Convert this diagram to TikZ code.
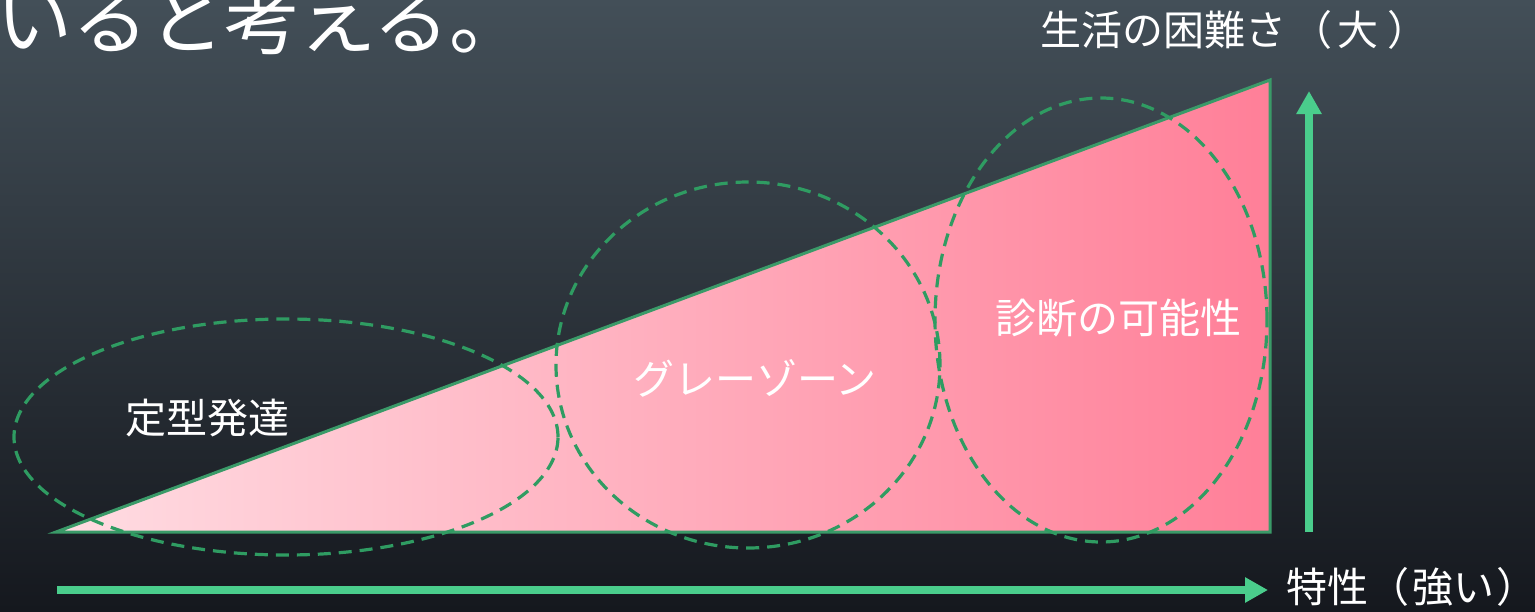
\documentclass[tikz,border=0pt]{standalone}
\usepackage{fontspec}
\setmainfont{Noto Sans CJK JP}
\usetikzlibrary{shapes.geometric, arrows.meta}
\definecolor{bgtop}{HTML}{434F58}
\definecolor{bgbot}{HTML}{15181E}
\definecolor{pinkleft}{HTML}{FFDDE3}
\definecolor{pinkright}{HTML}{FF7F98}
\definecolor{edgegreen}{HTML}{3A9A68}
\definecolor{dashgreen}{HTML}{2F9C62}
\definecolor{axisgreen}{HTML}{4ACD8C}
\def\lbl{\fontsize{41}{49}\selectfont}
\def\ttl{\fontsize{76}{90}\selectfont}
\tikzstyle{zone}=[ellipse, draw=dashgreen, line width=3.2pt, dash pattern=on 13pt off 8pt, inner sep=0pt]
\tikzstyle{zonetext}=[text=white, font=\lbl, inner sep=0pt]
\tikzstyle{axis}=[draw=axisgreen, line width=8pt, -{Triangle[length=23pt,width=24pt]}]

\begin{document}
\begin{tikzpicture}[x=1pt, y=-1pt]
  \useasboundingbox (0,0) rectangle (1535,611);
  \clip (0,0) rectangle (1535,611);
  \shade[top color=bgtop, bottom color=bgbot] (0,0) rectangle (1535,611);

  \coordinate (a) at (56,532);
  \coordinate (b) at (1270,80);
  \coordinate (c) at (1270,532);
  \path[draw=edgegreen, line width=3pt, left color=pinkleft, right color=pinkright] (a) -- (b) -- (c) -- cycle;

  \node[zone, minimum width=544pt, minimum height=236pt] (typ) at (286,437) {};
  \node[zone, minimum width=384pt, minimum height=366pt] (grey) at (748,365) {};
  \node[zone, minimum width=332pt, minimum height=444pt] (diag) at (1101,320) {};

  \node[zonetext] (t1) at (207,418) {定型発達};
  \node[zonetext] (t2) at (755,378) {グレーゾーン};
  \node[zonetext] (t3) at (1118,318) {診断の可能性};

  \coordinate (x0) at (57,590);
  \coordinate (x1) at (1268,590);
  \draw[axis] (x0) -- (x1);
  \coordinate (y0) at (1309,532);
  \coordinate (y1) at (1309,91);
  \draw[axis] (y0) -- (y1);

  \node[zonetext, anchor=west] (xlab) at (1286,587) {特性（\kern3pt 強い\kern2pt）\kern-22pt};
  \node[zonetext, anchor=west] (ylab) at (1040,30) {生活の困難さ\kern5pt（\kern5pt 大\kern9pt）};
  \node[text=white, font=\ttl, anchor=base west, inner sep=0pt] (title) at (-4,48) {いると考える。};
\end{tikzpicture}
\end{document}
